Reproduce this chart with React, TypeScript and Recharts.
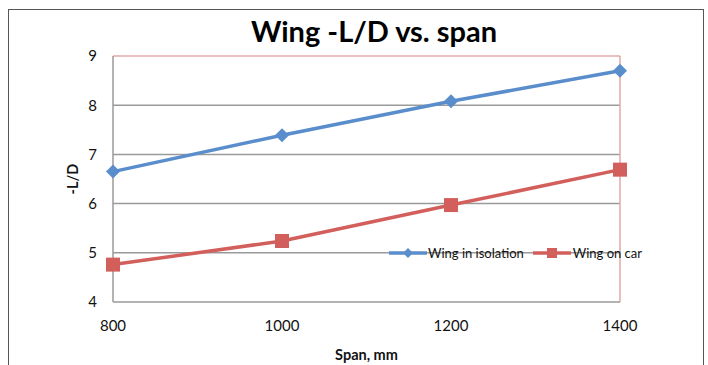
import { LineChart, Line, XAxis, YAxis, CartesianGrid, ReferenceLine, Label } from "recharts";

const spans = [800, 1000, 1200, 1400];
const isolation = [6.65, 7.39, 8.08, 8.7];
const onCar = [4.76, 5.24, 5.97, 6.69];
const yTicks = [4, 5, 6, 7, 8, 9];

const data = spans.map((s, i) => ({ span: s, isolation: isolation[i], onCar: onCar[i] }));

const BLUE = "#5a8dcb";
const RED = "#d35f5c";
const FONT = "Lato, 'Open Sans', sans-serif";

const Diamond = ({ cx, cy }: any) => (
  <polygon points={`${cx},${cy - 7} ${cx + 7},${cy} ${cx},${cy + 7} ${cx - 7},${cy}`} fill={BLUE} />
);
const Square = ({ cx, cy }: any) => <rect x={cx - 7} y={cy - 7} width={14} height={14} fill={RED} />;

const LegendBox = () => (
  <div style={{ position: "absolute", left: 389, top: 245, display: "flex", alignItems: "center", fontFamily: FONT, fontSize: 13, color: "#111" }}>
    <svg width={38} height={14}>
      <line x1={0} y1={7} x2={38} y2={7} stroke={BLUE} strokeWidth={3.5} />
      <polygon points="19,2 24,7 19,12 14,7" fill={BLUE} />
    </svg>
    <span style={{ marginLeft: 1, marginRight: 9 }}>Wing in isolation</span>
    <svg width={38} height={14}>
      <line x1={0} y1={7} x2={38} y2={7} stroke={RED} strokeWidth={3.5} />
      <rect x={14} y={2} width={10} height={10} fill={RED} />
    </svg>
    <span style={{ marginLeft: 2 }}>Wing on car</span>
  </div>
);

export default function App() {
  return (
    <div style={{ position: "fixed", left: 0, top: 0, width: 708, height: 365, background: "#fff", overflow: "hidden" }}>
      <div style={{ position: "absolute", left: 8, top: 9, width: 694, height: 400, border: "1px solid #555" }} />
      <div style={{ position: "absolute", top: 13, left: 0, width: 748, textAlign: "center", fontFamily: FONT, fontWeight: 700, fontSize: 29, color: "#000" }}>
        Wing -L/D vs. span
      </div>
      <LineChart width={708} height={365} data={data} margin={{ top: 56, right: 88, left: 0, bottom: 0 }} style={{ position: "absolute", left: 0, top: 0 }}>
        <CartesianGrid horizontal vertical={false} stroke="#9a9a9a" strokeWidth={1.5} horizontalValues={[5, 6, 7, 8]} />
        <ReferenceLine y={9} stroke="#e0a9a9" strokeWidth={1.5} ifOverflow="visible" />
        <ReferenceLine x={1400} stroke="#e0a9a9" strokeWidth={1.5} ifOverflow="visible" />
        <XAxis
          dataKey="span"
          type="number"
          domain={[800, 1400]}
          ticks={spans}
          axisLine={{ stroke: "#9a9a9a", strokeWidth: 1.5 }}
          tickLine={false}
          tick={{ fill: "#111", fontSize: 15, fontFamily: FONT }}
          tickMargin={12}
          height={63}
        >
          <Label value="Span, mm" position="insideBottom" offset={5} style={{ fill: "#111", fontSize: 14.5, fontWeight: 700, fontFamily: FONT }} />
        </XAxis>
        <YAxis
          type="number"
          domain={[4, 9]}
          ticks={yTicks}
          axisLine={{ stroke: "#9a9a9a", strokeWidth: 1.5 }}
          tickLine={false}
          tick={{ fill: "#111", fontSize: 15, fontFamily: FONT }}
          tickMargin={10}
          width={113}
        >
          <Label value="-L/D" angle={-90} position="insideLeft" offset={73} style={{ fill: "#111", fontSize: 14.5, fontWeight: 700, fontFamily: FONT, textAnchor: "middle" }} />
        </YAxis>
        <Line dataKey="isolation" stroke={BLUE} strokeWidth={3.5} dot={<Diamond />} isAnimationActive={false} />
        <Line dataKey="onCar" stroke={RED} strokeWidth={3.5} dot={<Square />} isAnimationActive={false} />
      </LineChart>
      <LegendBox />
    </div>
  );
}
